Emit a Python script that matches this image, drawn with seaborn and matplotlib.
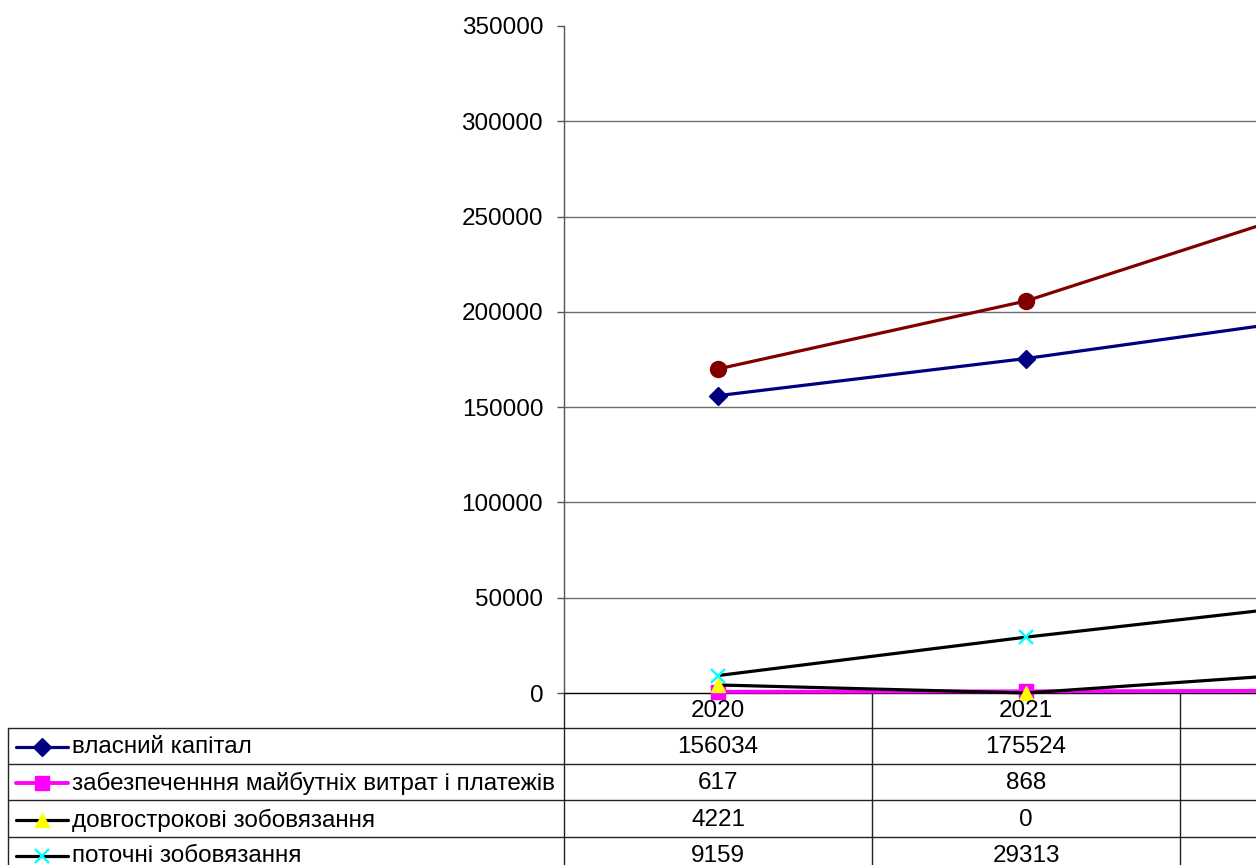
import numpy as np
import pandas as pd
import seaborn as sns
import matplotlib.pyplot as plt
from matplotlib.transforms import blended_transform_factory
from matplotlib.ticker import StrMethodFormatter

# ======================
# Data
# ======================
years = ['2020', '2021', '2022']
equity = [156034, 175524, 198000]
provisions = [617, 868, 1200]
long_term = [4221, 0, 11200]
current = [9159, 29313, 47600]
total = [170031, 205705, 258000]

names = ['власний капітал',
         'забезпеченння майбутніх витрат і платежів',
         'довгострокові зобовязання',
         'поточні зобовязання',
         'баланс']
values = [equity, provisions, long_term, current, total]

# line colour, marker, marker colour, marker size, line width
styles = [
    ('#000080', 'D', '#000080', 9.5, 2.3),
    ('#FF00FF', 's', '#FF00FF', 10.5, 2.8),
    ('black', '^', '#FFFF00', 10.5, 2.3),
    ('black', 'x', '#00FFFF', 10.5, 2.3),
    ('#800000', 'o', '#800000', 11.5, 2.3),
]

# ======================
# Figure
# ======================
sns.set_style('white')
plt.rcParams['font.family'] = ['Liberation Sans', 'DejaVu Sans']
plt.rcParams['text.color'] = 'black'
plt.rcParams['ytick.labelcolor'] = 'black'
FS = 17.5

W, H = 1256, 865
fig = plt.figure(figsize=(W / 100, H / 100), dpi=100)
ax = fig.add_axes([564 / W, (H - 693) / H, 924 / W, 667 / H])

pos = np.arange(len(years))
for name, vals, (lc, mk, mc, ms, lw) in zip(names, values, styles):
    sns.lineplot(x=pos, y=vals, ax=ax, color=lc, linewidth=lw,
                 marker=mk, markersize=ms, markerfacecolor=mc,
                 markeredgecolor=mc, markeredgewidth=1.7 if mk == 'x' else 1,
                 clip_on=False, zorder=3)

ax.set_xlim(-0.5, len(years) - 0.5)
ax.set_ylim(0, 350000)
ax.set_yticks(np.arange(0, 350001, 50000))
ax.yaxis.set_major_formatter(StrMethodFormatter('{x:.0f}'))
ax.set_xticks([])
ax.tick_params(axis='y', labelsize=FS, length=5, width=1, color='#555555',
               labelcolor='black', pad=10, left=True)
for y in range(50000, 300001, 50000):
    ax.axhline(y, color='#6e6e6e', linewidth=1, zorder=1)
for s in ['top', 'right']:
    ax.spines[s].set_visible(False)
ax.spines['left'].set_color('#555555')
ax.spines['bottom'].set_color('black')
ax.spines['left'].set_linewidth(1)
ax.spines['bottom'].set_linewidth(1)
ax.set_xlabel('')
ax.set_ylabel('')

# ======================
# Data table
# ======================
tab = fig.add_axes([0, 0, 1, 1], zorder=-1)
tab.set_xlim(0, W)
tab.set_ylim(H, 0)
tab.axis('off')
mix = blended_transform_factory(ax.transData, tab.transData)

row_lines = [728, 764, 800, 837, 873, 909]
row_mid = [711, 747, 783, 820, 856, 892]
lc_tab = '#222222'

# only the columns whose centre falls inside the picture get their text
fig.canvas.draw()
visible = [i for i in pos if ax.transData.transform((i, 0))[0] < W - 40]

# header row: years
for i in visible:
    ax.text(i, row_mid[0], years[i], transform=mix, ha='center', va='center',
            fontsize=FS, color='black', clip_on=False)

# vertical lines between categories
for b in np.arange(-0.5, len(years)):
    tab.plot([b, b], [693, H + 60], transform=mix, color=lc_tab, lw=1,
             clip_on=False)
tab.plot([8, 8], [728, H + 60], color=lc_tab, lw=1)
for yl in row_lines:
    tab.plot([8, W], [yl, yl], color=lc_tab, lw=1)

# rows with legend keys and values
for r, (name, vals, (lc, mk, mc, ms, lw)) in enumerate(zip(names, values, styles)):
    ym = row_mid[r + 1]
    if ym > H + 10:
        continue
    tab.plot([16, 42, 68], [ym, ym, ym], color=lc, lw=lw, marker=mk,
             markevery=[1], markersize=ms, markerfacecolor=mc,
             markeredgecolor=mc, markeredgewidth=1.7 if mk == 'x' else 1,
             clip_on=False)
    tab.text(72, ym, name, ha='left', va='center', fontsize=FS, color='black')
    for i in visible:
        ax.text(i, ym, str(vals[i]), transform=mix, ha='center', va='center',
                fontsize=FS, color='black', clip_on=False)

fig.savefig('out.png', dpi=100)
